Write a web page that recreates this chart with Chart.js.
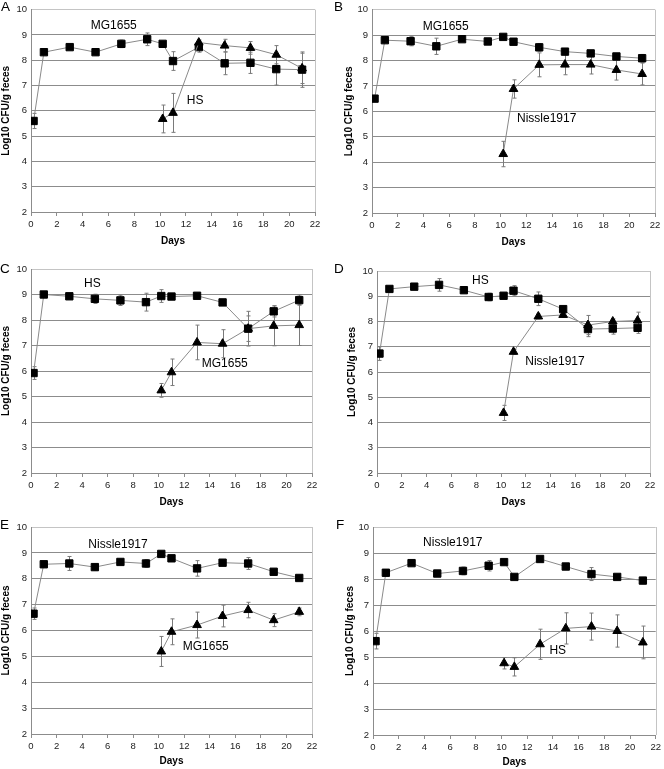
<!DOCTYPE html>
<html>
<head>
<meta charset="utf-8">
<script src="https://cdn.jsdelivr.net/npm/chart.js@4.4.1/dist/chart.umd.min.js"></script>
<style>
  body { margin: 0; background: #fff; width: 664px; height: 769px; position: relative; overflow: hidden; font-family: "Liberation Sans", Arial, sans-serif; }
  .panel { position: absolute; }
  .letter { position: absolute; font-size: 13.5px; line-height: 14px; color: #000; }
</style>
</head>
<body>
<div id="root"></div>
<script>
// sampling days
const daysSq = [0.2, 1, 3, 5, 7, 9, 10.2, 11, 13, 15, 17, 19, 21]
const daysTri = [10.2, 11, 13, 15, 17, 19, 21]
const xTicks = [0, 2, 4, 6, 8, 10, 12, 14, 16, 18, 20, 22]
const yTicks = [2, 3, 4, 5, 6, 7, 8, 9, 10]

// A: MG1655 (squares) then HS (triangles)
const aSq = [5.60, 8.32, 8.52, 8.32, 8.65, 8.83, 8.65, 7.97, 8.52, 7.88, 7.90, 7.65, 7.63]
const aSqErr = [0.3, 0.1, 0.08, 0.12, 0.15, 0.25, 0.1, 0.37, 0.2, 0.45, 0.42, 0.63, 0.7]
const aTri = [5.68, 5.92, 8.70, 8.58, 8.49, 8.22, 7.68]
const aTriErr = [0.55, 0.77, 0.1, 0.25, 0.25, 0.36, 0.6]

// B: MG1655 (squares) then Nissle1917 (triangles)
const bSq = [6.50, 8.80, 8.76, 8.56, 8.84, 8.75, 8.93, 8.74, 8.52, 8.35, 8.28, 8.16, 8.09]
const bSqErr = [0.1, 0.05, 0.18, 0.32, 0.08, 0.08, 0.08, 0.08, 0.15, 0.12, 0.1, 0.08, 0.15]
const bTri = [4.32, 6.88, 7.83, 7.84, 7.84, 7.63, 7.47]
const bTriErr = [0.5, 0.36, 0.47, 0.4, 0.37, 0.4, 0.43]

// C: HS (squares) then MG1655 (triangles)
const cSq = [5.92, 9.00, 8.93, 8.83, 8.77, 8.70, 8.94, 8.92, 8.95, 8.69, 7.66, 8.34, 8.78]
const cSqErr = [0.25, 0.05, 0.06, 0.18, 0.2, 0.35, 0.25, 0.06, 0.06, 0.1, 0.68, 0.22, 0.2]
const cTri = [5.24, 5.95, 7.12, 7.07, 7.66, 7.77, 7.80]
const cTriErr = [0.27, 0.52, 0.68, 0.55, 0.5, 0.78, 0.8]

// D: HS (squares) then Nissle1917 (triangles)
const dSq = [6.73, 9.29, 9.38, 9.45, 9.24, 8.97, 9.02, 9.22, 8.90, 8.49, 7.70, 7.72, 7.75]
const dSqErr = [0.27, 0.05, 0.05, 0.25, 0.05, 0.15, 0.05, 0.2, 0.27, 0.1, 0.3, 0.22, 0.22]
const dTri = [4.38, 6.80, 8.20, 8.26, 7.86, 8.00, 8.04]
const dTriErr = [0.3, 0.1, 0.1, 0.1, 0.38, 0.1, 0.33]

// E: Nissle1917 (squares) then MG1655 (triangles)
const eSq = [6.65, 8.56, 8.59, 8.45, 8.65, 8.59, 8.96, 8.79, 8.40, 8.62, 8.59, 8.27, 8.03]
const eSqErr = [0.22, 0.05, 0.27, 0.12, 0.05, 0.15, 0.05, 0.05, 0.3, 0.05, 0.23, 0.05, 0.05]
const eTri = [5.19, 5.95, 6.21, 6.56, 6.79, 6.40, 6.72]
const eTriErr = [0.58, 0.5, 0.5, 0.42, 0.3, 0.25, 0.15]

// F: Nissle1917 (squares) then HS (triangles)
const fSq = [5.61, 8.24, 8.61, 8.21, 8.31, 8.51, 8.65, 8.08, 8.77, 8.48, 8.19, 8.08, 7.94]
const fSqErr = [0.3, 0.05, 0.05, 0.05, 0.15, 0.2, 0.05, 0.05, 0.05, 0.05, 0.25, 0.05, 0.12]
const fTri = [4.76, 4.62, 5.49, 6.10, 6.17, 6.00, 5.56]
const fTriErr = [0.22, 0.35, 0.58, 0.6, 0.52, 0.62, 0.63]

// strain name labels (anchored in data units)
const aLabels = [{ text: "MG1655", x: 4.63, y: 9.37 }, { text: "HS", x: 12.07, y: 6.39 }]
const bLabels = [{ text: "MG1655", x: 3.94, y: 9.32 }, { text: "Nissle1917", x: 11.27, y: 5.71 }]
const cLabels = [{ text: "HS", x: 4.15, y: 9.41 }, { text: "MG1655", x: 13.37, y: 6.28 }]
const dLabels = [{ text: "HS", x: 7.66, y: 9.6 }, { text: "Nissle1917", x: 11.95, y: 6.39 }]
const eLabels = [{ text: "Nissle1917", x: 4.49, y: 9.33 }, { text: "MG1655", x: 11.88, y: 5.36 }]
const fLabels = [{ text: "Nissle1917", x: 3.9, y: 9.4 }, { text: "HS", x: 13.73, y: 5.25 }]

const panels = [
  { letter: "A", left: 0, top: 0, w: 332, h: 256, pad: { top: 6, right: 17, bottom: 9, left: 0 }, yW: 31, xH: 35, lx: 1, ly: 0,
    sq: aSq, sqErr: aSqErr, tri: aTri, triErr: aTriErr, labels: aLabels },
  { letter: "B", left: 332, top: 0, w: 332, h: 256, pad: { top: 7, right: 9, bottom: 8, left: 11 }, yW: 29, xH: 35, lx: 334, ly: 0,
    sq: bSq, sqErr: bSqErr, tri: bTri, triErr: bTriErr, labels: bLabels },
  { letter: "C", left: 0, top: 256, w: 332, h: 256, pad: { top: 13, right: 20, bottom: 4, left: 0 }, yW: 31, xH: 35, lx: 0, ly: 262,
    sq: cSq, sqErr: cSqErr, tri: cTri, triErr: cTriErr, labels: cLabels },
  { letter: "D", left: 332, top: 256, w: 332, h: 256, pad: { top: 15, right: 14, bottom: 4, left: 14 }, yW: 31, xH: 35, lx: 334, ly: 262,
    sq: dSq, sqErr: dSqErr, tri: dTri, triErr: dTriErr, labels: dLabels },
  { letter: "E", left: 0, top: 512, w: 332, h: 257, pad: { top: 15, right: 20, bottom: 2, left: 0 }, yW: 31, xH: 33, lx: 0, ly: 518,
    sq: eSq, sqErr: eSqErr, tri: eTri, triErr: eTriErr, labels: eLabels },
  { letter: "F", left: 332, top: 512, w: 332, h: 257, pad: { top: 15, right: 4, bottom: 1, left: 12 }, yW: 29, xH: 33, lx: 336, ly: 518,
    sq: fSq, sqErr: fSqErr, tri: fTri, triErr: fTriErr, labels: fLabels }
]

const GRID = "#8c8c8c"
const FONT = "'Liberation Sans', Arial, sans-serif"

// error bars under markers, right frame line, strain labels on top
const errorBars = {
  id: "errorBars",
  beforeDatasetsDraw(chart) {
    const { ctx, chartArea } = chart
    ctx.save()
    ctx.strokeStyle = "#c4c4c4"
    ctx.lineWidth = 1
    ctx.beginPath()
    ctx.moveTo(Math.round(chartArea.right) + 0.5, chartArea.top)
    ctx.lineTo(Math.round(chartArea.right) + 0.5, chartArea.bottom)
    ctx.stroke()
    const xs = chart.scales.x, ys = chart.scales.y
    ctx.strokeStyle = "#7a7a7a"
    chart.data.datasets.forEach(ds => {
      ds.data.forEach((p, i) => {
        const e = ds.err[i]
        const px = Math.round(xs.getPixelForValue(p.x)) + 0.5
        const y1 = ys.getPixelForValue(p.y - e), y2 = ys.getPixelForValue(p.y + e)
        ctx.beginPath()
        ctx.moveTo(px, y1); ctx.lineTo(px, y2)
        ctx.moveTo(px - 2, y1); ctx.lineTo(px + 2, y1)
        ctx.moveTo(px - 2, y2); ctx.lineTo(px + 2, y2)
        ctx.stroke()
      })
    })
    ctx.restore()
  },
  afterDraw(chart) {
    const { ctx } = chart
    const xs = chart.scales.x, ys = chart.scales.y
    ctx.save()
    ctx.fillStyle = "#000"
    ctx.font = "12px " + FONT
    ctx.textAlign = "left"
    ctx.textBaseline = "middle"
    chart.options.plugins.errorBars.labels.forEach(l => {
      ctx.fillText(l.text, xs.getPixelForValue(l.x), ys.getPixelForValue(l.y))
    })
    ctx.restore()
  }
}

const root = document.getElementById("root")
panels.forEach(p => {
  const wrap = document.createElement("div")
  wrap.className = "panel"
  wrap.style.left = p.left + "px"
  wrap.style.top = p.top + "px"
  const canvas = document.createElement("canvas")
  canvas.width = p.w
  canvas.height = p.h
  canvas.style.width = p.w + "px"
  canvas.style.height = p.h + "px"
  wrap.appendChild(canvas)
  root.appendChild(wrap)

  const letter = document.createElement("div")
  letter.className = "letter"
  letter.textContent = p.letter
  letter.style.left = p.lx + "px"
  letter.style.top = p.ly + "px"
  root.appendChild(letter)

  const marker = {
    borderColor: "#8a8a8a", borderWidth: 1, tension: 0, fill: false,
    pointBackgroundColor: "#000", pointBorderColor: "#000", pointBorderWidth: 1,
    pointHoverRadius: 0
  }

  new Chart(canvas, {
    type: "line",
    data: {
      datasets: [
        { ...marker, label: "tri", data: daysTri.map((d, i) => ({ x: d, y: p.tri[i] })), err: p.triErr,
          pointStyle: "triangle", pointRadius: 5 },
        { ...marker, label: "sq", data: daysSq.map((d, i) => ({ x: d, y: p.sq[i] })), err: p.sqErr,
          pointStyle: "rect", pointRadius: 5.2 }
      ]
    },
    plugins: [errorBars],
    options: {
      responsive: false,
      animation: false,
      events: [],
      layout: { padding: p.pad },
      plugins: {
        legend: { display: false },
        tooltip: { enabled: false },
        errorBars: { labels: p.labels }
      },
      scales: {
        x: {
          type: "linear", min: 0, max: 22,
          afterFit: s => { s.height = p.xH },
          afterBuildTicks: s => { s.ticks = xTicks.map(v => ({ value: v })) },
          grid: { drawOnChartArea: false, drawTicks: true, tickLength: 4, color: GRID },
          border: { color: GRID },
          ticks: { color: "#222", font: { family: FONT, size: 9.5 }, padding: 3, maxRotation: 0 },
          title: { display: true, text: "Days", color: "#000", font: { family: FONT, size: 10, weight: "bold" }, padding: { top: 0, bottom: 0 } }
        },
        y: {
          min: 2, max: 10,
          afterFit: s => { s.width = p.yW },
          afterBuildTicks: s => { s.ticks = yTicks.map(v => ({ value: v })) },
          grid: { drawTicks: false, color: c => c.tick && c.tick.value === 10 ? "#c4c4c4" : GRID },
          border: { color: GRID },
          ticks: { color: "#222", font: { family: FONT, size: 9.5 }, padding: 4 },
          title: { display: true, text: "Log10 CFU/g feces", color: "#000", font: { family: FONT, size: 10, weight: "bold" }, padding: { top: 0, bottom: 0 } }
        }
      }
    }
  })
})
</script>
</body>
</html>
